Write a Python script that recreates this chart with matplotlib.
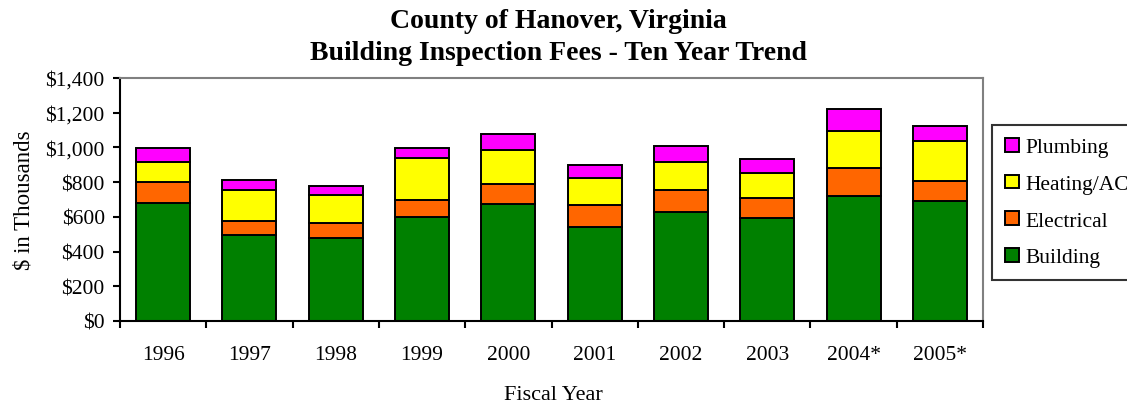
import matplotlib
matplotlib.use("Agg")
import matplotlib.pyplot as plt
import numpy as np
from matplotlib.ticker import FuncFormatter, FixedLocator

years = ["1996", "1997", "1998", "1999", "2000", "2001", "2002", "2003", "2004*", "2005*"]
building = [678, 497, 476, 597, 672, 539, 630, 595, 722, 690]
electrical = [121, 81, 90, 102, 119, 129, 125, 112, 158, 117]
heating = [119, 179, 162, 241, 195, 154, 162, 146, 217, 229]
plumbing = [81, 54, 50, 59, 91, 77, 92, 81, 122, 90]

plt.rcParams['font.family'] = ['Liberation Serif', 'DejaVu Serif']

W, H = 1127, 406
fig = plt.figure(figsize=(W / 100, H / 100), dpi=100)
L, R, T, B = 120, 983, 79, 322
ax = fig.add_axes([L / W, 1 - B / H, (R - L) / W, (B - T) / H])

x = np.arange(len(years))
w = 0.625
kw = dict(width=w, edgecolor="black", linewidth=1.4)
b1 = ax.bar(x, building, color="#008000", label="Building", **kw)
bot = np.array(building)
b2 = ax.bar(x, electrical, bottom=bot, color="#FF6600", label="Electrical", **kw)
bot = bot + np.array(electrical)
b3 = ax.bar(x, heating, bottom=bot, color="#FFFF00", label="Heating/AC", **kw)
bot = bot + np.array(heating)
b4 = ax.bar(x, plumbing, bottom=bot, color="#FF00FF", label="Plumbing", **kw)

ax.set_xlim(-0.5, len(years) - 0.5)
ax.set_ylim(0, 1400)
ax.set_yticks(np.arange(0, 1401, 200))
ax.yaxis.set_major_formatter(FuncFormatter(lambda v, p: "${:,.0f}".format(v)))
ax.set_xticks(x)
ax.set_xticklabels(years)
ax.xaxis.set_minor_locator(FixedLocator(np.arange(-0.5, len(years), 1.0)))
ax.tick_params(axis="x", which="major", length=0, pad=17, labelsize=15.5)
ax.tick_params(axis="x", which="minor", length=5, width=1.5, direction="out")
ax.tick_params(axis="y", length=5, width=1.5, direction="out", pad=6, labelsize=15.5)

for s in ["left", "bottom"]:
    ax.spines[s].set_color("black")
    ax.spines[s].set_linewidth(1.5)
for s in ["top", "right"]:
    ax.spines[s].set_color("#808080")
    ax.spines[s].set_linewidth(1.5)

ax.set_ylabel("$ in Thousands", fontsize=16.5)
ax.yaxis.set_label_coords((35 - L) / (R - L), 0.5)
ax.set_xlabel("Fiscal Year", fontsize=16)
ax.xaxis.set_label_coords((553 - L) / (R - L), -(400 - B) / (B - T))
ax.xaxis.label.set_va("baseline")

cx = 558 / W
fig.text(cx, 1 - 28 / H, "County of Hanover, Virginia", ha="center", va="baseline",
         fontsize=20, fontweight="bold")
fig.text(cx, 1 - 60 / H, "Building Inspection Fees - Ten Year Trend", ha="center", va="baseline",
         fontsize=20, fontweight="bold")

leg = fig.legend(handles=[b4, b3, b2, b1], labels=["Plumbing", "Heating/AC", "Electrical", "Building"],
                 loc="upper left", bbox_to_anchor=(992 / W, 1 - 126 / H), fontsize=15.5,
                 frameon=True, fancybox=False, edgecolor="black", handlelength=0.65, handleheight=0.6,
                 labelspacing=0.8, handletextpad=0.3, borderpad=0.6, borderaxespad=0)
leg.get_frame().set_linewidth(1.5)

fig.savefig("out.png", dpi=100)
